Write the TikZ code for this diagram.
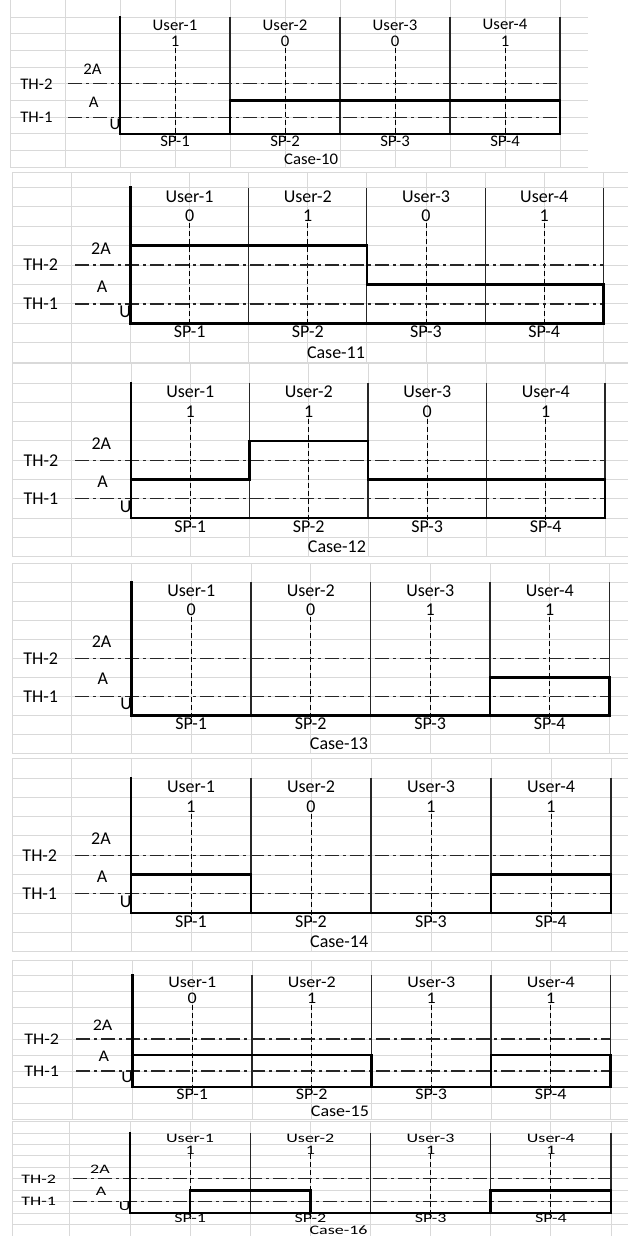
\documentclass[tikz,border=0pt]{standalone}
\usepackage{fontspec}
\setmainfont{Carlito}

\begin{document}
\begin{tikzpicture}[x=1pt, y=-1pt]
    % Define styles for grid, axes, levels and labels
    \tikzset{
        gridline/.style={draw=black!15, line width=0.9pt},
        divider/.style={draw=black!85, line width=1.1pt},
        axisline/.style={draw=black, line width=2.6pt, line cap=rect},
        boxline/.style={draw=black, line width=2.6pt, line join=miter},
        centerline/.style={draw=black, line width=1pt, dash pattern=on 5pt off 3pt},
        thline/.style={draw=black!85, line width=1.3pt, dash pattern=on 14pt off 4pt on 3pt off 4pt},
        lbl/.style={inner sep=0pt, font=\fontsize{18}{20}\selectfont, text=black}
    }
    \useasboundingbox (0,0) rectangle (643,1236);
    \fill[white] (0,0) rectangle (643,1236);

    % ==========================================
    % ONE PANEL PER CASE
    % ==========================================
    % case / sheet top / axis top / row height / axis left / column width /
    % grid left / grid right / text xscale / text yscale / user values / levels (per half column)
    \foreach \p/\top/\T/\h/\L/\W/\gl/\gr/\sx/\sy/\vals/\prof in {
        10/-2/17/16.7/120/110/10/588/0.93/0.9/{1,0,0,1}/{0,0,1,1,1,1,1,1},
        11/172/187.5/19.4/130.5/118.2/12/628/1/1/{0,1,0,1}/{2,2,2,2,1,1,1,1},
        12/363/383/19.3/131/118.5/12/628/1/1/{1,1,0,1}/{1,1,2,2,1,1,1,1},
        13/563/582/19.05/131.5/119.5/12/628/1/1/{0,0,1,1}/{0,0,0,0,0,0,1,1},
        14/758/778/19.3/131/120/12/628/1/1/{1,0,1,1}/{1,1,0,0,0,0,1,1},
        15/960/975/16/132.5/119.5/12/628/1/0.9/{0,1,1,1}/{1,1,1,1,0,0,1,1},
        16/1121/1133/11.45/130/120.25/12/628/1/0.72/{1,1,1,1}/{0,1,1,0,0,0,1,1}} {
        \pgfmathsetmacro\B{\T+7*\h}
        \pgfmathsetmacro\R{\L+4*\W}
        \pgfmathsetmacro\E{\T+9*\h}

        % 1. Sheet grid
        \draw[gridline] (\gl,\top) -- (\gr,\top);
        \foreach \k in {0,...,9} { \draw[gridline] (\gl,{\T+\k*\h}) -- (\gr,{\T+\k*\h}); }
        \draw[gridline] (\gl,\top) -- (\gl,\E);
        \foreach \k in {-1,...,8} { \draw[gridline] ({\L+\k*\W/2},\top) -- ({\L+\k*\W/2},\E); }

        % 2. Dashed centre of each sub-band, thresholds
        \foreach \k in {0,...,3} {
            \draw[centerline] ({\L+(\k+0.5)*\W},{\T+1.85*\h}) -- ({\L+(\k+0.5)*\W},{\B+0.45*\h});
        }
        \draw[thline] ({\L-0.47*\W},{\T+4*\h}) -- (\R,{\T+4*\h});
        \draw[thline] ({\L-0.47*\W},{\T+6*\h}) -- (\R,{\T+6*\h});

        % 3. Band dividers and axes
        \foreach \k in {1,...,4} { \draw[divider] ({\L+\k*\W},\T) -- ({\L+\k*\W},\B); }
        \draw[axisline] (\L,\T) -- (\L,\B) -- (\R,\B);

        % 4. Allocated power levels
        \draw[boxline] (\L,\B) \foreach \lv [count=\i] in \prof {
            -- ({\L+(\i-1)*\W/2},{\B-\lv*2*\h}) -- ({\L+\i*\W/2},{\B-\lv*2*\h}) } -- (\R,\B);

        % 5. Labels
        \foreach \v [count=\i] in \vals {
            \node[lbl] (user\p-\i) at ({\L+(\i-0.5)*\W},{\T+0.47*\h}) {\scalebox{\sx}[\sy]{User-\i}};
            \node[lbl] (val\p-\i) at ({\L+(\i-0.5)*\W},{\T+1.47*\h}) {\scalebox{\sx}[\sy]{\v}};
            \node[lbl] (sp\p-\i) at ({\L+(\i-0.5)*\W},{\B+0.45*\h}) {\scalebox{\sx}[\sy]{SP-\i}};
        }
        \node[lbl] (thtwo\p) at ({\L-0.76*\W},{\T+4*\h}) {\scalebox{\sx}[\sy]{TH-2}};
        \node[lbl] (thone\p) at ({\L-0.76*\W},{\T+6*\h}) {\scalebox{\sx}[\sy]{TH-1}};
        \node[lbl] (twoA\p) at ({\L-0.25*\W},{\T+3.15*\h}) {\scalebox{\sx}[\sy]{2A}};
        \node[lbl] (oneA\p) at ({\L-0.24*\W},{\T+5.1*\h}) {\scalebox{\sx}[\sy]{A}};
        \node[lbl, anchor=east] (zero\p) at ({\L+0.5},{\T+6.4*\h}) {\scalebox{\sx}[\sy]{U}};
        \node[lbl, anchor=west] (case\p) at ({\L+1.5*\W-1},{\B+1.5*\h}) {\scalebox{\sx}[\sy]{Case-\p}};
    }
\end{tikzpicture}
\end{document}
